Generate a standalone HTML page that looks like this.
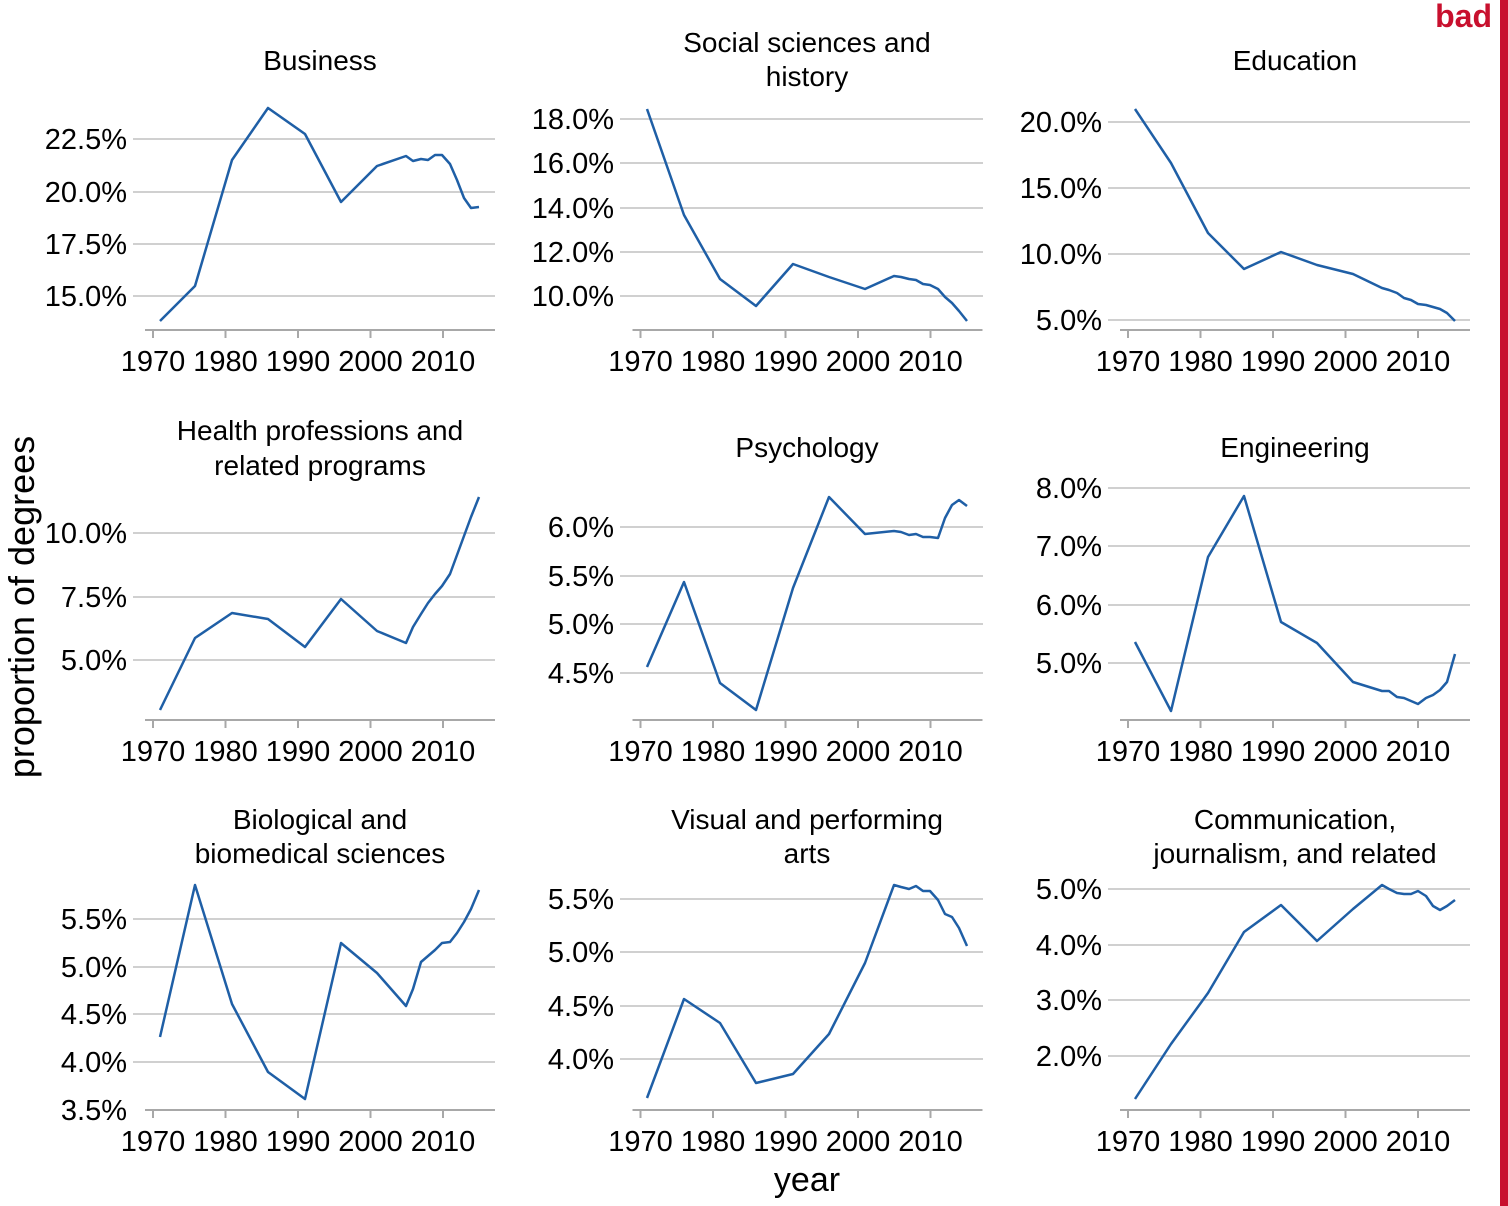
<!DOCTYPE html>
<html><head><meta charset="utf-8"><style>
body{margin:0;background:#fff;}
svg{display:block;font-family:"Liberation Sans",sans-serif;}
.t{font-size:28px;fill:#000;text-anchor:middle;}
.tk{font-size:29px;fill:#000;}
.g{stroke:#d0d0d0;stroke-width:2;}
.ax{stroke:#a8a8a8;stroke-width:2;}
.ln{fill:none;stroke:#1f5fa6;stroke-width:2.5;stroke-linejoin:round;}
</style></head><body>
<svg width="1508" height="1206" viewBox="0 0 1508 1206">
<rect x="1500" y="0" width="8" height="1206" fill="#c8102e"/>
<text x="1492" y="27" font-size="32" font-weight="bold" fill="#c8102e" text-anchor="end">bad</text>
<text transform="translate(34,607) rotate(-90)" font-size="36" text-anchor="middle">proportion of degrees</text>
<text x="807" y="1191" font-size="34" text-anchor="middle">year</text>

<text class="t" x="320" y="70">Business</text>
<text class="t" x="807" y="52">Social sciences and</text><text class="t" x="807" y="86">history</text>
<text class="t" x="1295" y="70">Education</text>
<text class="t" x="320" y="440">Health professions and</text><text class="t" x="320" y="475">related programs</text>
<text class="t" x="807" y="457">Psychology</text>
<text class="t" x="1295" y="457">Engineering</text>
<text class="t" x="320" y="829">Biological and</text><text class="t" x="320" y="863">biomedical sciences</text>
<text class="t" x="807" y="829">Visual and performing</text><text class="t" x="807" y="863">arts</text>
<text class="t" x="1295" y="829">Communication,</text><text class="t" x="1295" y="863">journalism, and related</text>

<g>
<g class="g"><line x1="133" x2="495" y1="139" y2="139"/><line x1="133" x2="495" y1="192" y2="192"/><line x1="133" x2="495" y1="244" y2="244"/><line x1="133" x2="495" y1="296" y2="296"/></g>
<g class="tk" text-anchor="end"><text x="127" y="149">22.5%</text><text x="127" y="202">20.0%</text><text x="127" y="254">17.5%</text><text x="127" y="306">15.0%</text></g>
<g class="g"><line x1="620" x2="983" y1="119" y2="119"/><line x1="620" x2="983" y1="163" y2="163"/><line x1="620" x2="983" y1="208" y2="208"/><line x1="620" x2="983" y1="252" y2="252"/><line x1="620" x2="983" y1="296" y2="296"/></g>
<g class="tk" text-anchor="end"><text x="614" y="129">18.0%</text><text x="614" y="173">16.0%</text><text x="614" y="218">14.0%</text><text x="614" y="262">12.0%</text><text x="614" y="306">10.0%</text></g>
<g class="g"><line x1="1108" x2="1470" y1="122" y2="122"/><line x1="1108" x2="1470" y1="188" y2="188"/><line x1="1108" x2="1470" y1="254" y2="254"/><line x1="1108" x2="1470" y1="320" y2="320"/></g>
<g class="tk" text-anchor="end"><text x="1102" y="132">20.0%</text><text x="1102" y="198">15.0%</text><text x="1102" y="264">10.0%</text><text x="1102" y="330">5.0%</text></g>

<g class="g"><line x1="133" x2="495" y1="533" y2="533"/><line x1="133" x2="495" y1="597" y2="597"/><line x1="133" x2="495" y1="660" y2="660"/></g>
<g class="tk" text-anchor="end"><text x="127" y="543">10.0%</text><text x="127" y="607">7.5%</text><text x="127" y="670">5.0%</text></g>
<g class="g"><line x1="620" x2="983" y1="527" y2="527"/><line x1="620" x2="983" y1="576" y2="576"/><line x1="620" x2="983" y1="624" y2="624"/><line x1="620" x2="983" y1="673" y2="673"/></g>
<g class="tk" text-anchor="end"><text x="614" y="537">6.0%</text><text x="614" y="586">5.5%</text><text x="614" y="634">5.0%</text><text x="614" y="683">4.5%</text></g>
<g class="g"><line x1="1108" x2="1470" y1="488" y2="488"/><line x1="1108" x2="1470" y1="546" y2="546"/><line x1="1108" x2="1470" y1="605" y2="605"/><line x1="1108" x2="1470" y1="663" y2="663"/></g>
<g class="tk" text-anchor="end"><text x="1102" y="498">8.0%</text><text x="1102" y="556">7.0%</text><text x="1102" y="615">6.0%</text><text x="1102" y="673">5.0%</text></g>

<g class="g"><line x1="133" x2="495" y1="919" y2="919"/><line x1="133" x2="495" y1="967" y2="967"/><line x1="133" x2="495" y1="1014" y2="1014"/><line x1="133" x2="495" y1="1062" y2="1062"/></g>
<g class="tk" text-anchor="end"><text x="127" y="929">5.5%</text><text x="127" y="977">5.0%</text><text x="127" y="1024">4.5%</text><text x="127" y="1072">4.0%</text><text x="127" y="1120">3.5%</text></g>
<g class="g"><line x1="620" x2="983" y1="899" y2="899"/><line x1="620" x2="983" y1="952" y2="952"/><line x1="620" x2="983" y1="1006" y2="1006"/><line x1="620" x2="983" y1="1059" y2="1059"/></g>
<g class="tk" text-anchor="end"><text x="614" y="909">5.5%</text><text x="614" y="962">5.0%</text><text x="614" y="1016">4.5%</text><text x="614" y="1069">4.0%</text></g>
<g class="g"><line x1="1108" x2="1470" y1="889" y2="889"/><line x1="1108" x2="1470" y1="945" y2="945"/><line x1="1108" x2="1470" y1="1000" y2="1000"/><line x1="1108" x2="1470" y1="1056" y2="1056"/></g>
<g class="tk" text-anchor="end"><text x="1102" y="899">5.0%</text><text x="1102" y="955">4.0%</text><text x="1102" y="1010">3.0%</text><text x="1102" y="1066">2.0%</text></g>
</g>

<defs>
<g id="xax">
<line class="ax" x1="145" x2="495" y1="0" y2="0"/>
<g class="ax"><line x1="153" x2="153" y1="0" y2="8"/><line x1="225.5" x2="225.5" y1="0" y2="8"/><line x1="298" x2="298" y1="0" y2="8"/><line x1="370.5" x2="370.5" y1="0" y2="8"/><line x1="443" x2="443" y1="0" y2="8"/></g>
<g class="tk" text-anchor="middle"><text x="153" y="41">1970</text><text x="225.5" y="41">1980</text><text x="298" y="41">1990</text><text x="370.5" y="41">2000</text><text x="443" y="41">2010</text></g>
</g>
</defs>
<use href="#xax" transform="translate(0,330)"/><use href="#xax" transform="translate(487.5,330)"/><use href="#xax" transform="translate(975,330)"/>
<use href="#xax" transform="translate(0,720)"/><use href="#xax" transform="translate(487.5,720)"/><use href="#xax" transform="translate(975,720)"/>
<use href="#xax" transform="translate(0,1110)"/><use href="#xax" transform="translate(487.5,1110)"/><use href="#xax" transform="translate(975,1110)"/>

<polyline class="ln" points="160,321 195,286 232,160 268,108 305,134 341,202 377,166 406,156 413,161 421,159 428,160 435,155 442,155 450,164 457,180 464,198 471,208 479,207"/>
<polyline class="ln" points="647,109 684,215 720,279 756,306 793,264 829,277 865,289 894,276 901,277 909,279 916,280 923,284 930,285 938,289 945,297 952,303 959,311 967,321"/>
<polyline class="ln" points="1135,109 1171,163 1208,233 1244,269 1281,252 1317,265 1353,274 1382,288 1389,290 1397,293 1404,298 1411,300 1418,304 1426,305 1433,307 1440,309 1447,313 1455,321"/>
<polyline class="ln" points="160,710 195,638 232,613 268,619 305,647 341,599 377,631 406,643 413,627 421,614 428,603 435,594 442,586 450,574 457,555 464,536 471,517 479,497"/>
<polyline class="ln" points="647,667 684,582 720,683 756,710 793,588 829,497 865,534 894,531 901,532 909,535 916,534 923,537 930,537 938,538 945,518 952,505 959,500 967,506"/>
<polyline class="ln" points="1135,642 1171,711 1208,557 1244,496 1281,622 1317,643 1353,682 1382,691 1389,691 1397,697 1404,698 1411,701 1418,704 1426,698 1433,695 1440,690 1447,682 1455,654"/>
<polyline class="ln" points="160,1037 195,885 232,1004 268,1072 305,1099 341,943 377,973 406,1006 413,989 421,962 428,956 435,950 442,943 450,942 457,933 464,922 471,909 479,890"/>
<polyline class="ln" points="647,1098 684,999 720,1023 756,1083 793,1074 829,1034 865,963 894,885 901,887 909,889 916,886 923,891 930,891 938,900 945,914 952,917 959,928 967,946"/>
<polyline class="ln" points="1135,1099 1171,1044 1208,993 1244,932 1281,905 1317,941 1353,909 1382,885 1389,889 1397,893 1404,894 1411,894 1418,891 1426,896 1433,906 1440,910 1447,906 1455,900"/>
</svg>
</body></html>
